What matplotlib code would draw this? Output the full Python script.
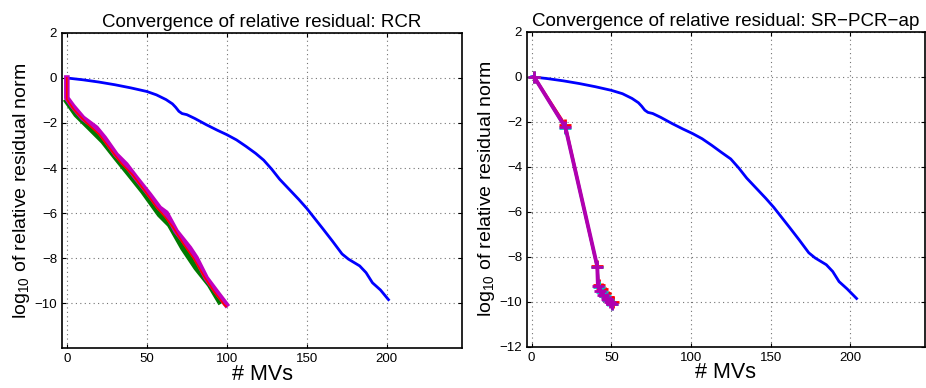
# convergence plots: RCR vs SR-PCR-ap
import numpy as np
import matplotlib
matplotlib.use("Agg")
import matplotlib.pyplot as plt

plt.rcParams['font.family'] = ['Liberation Sans', 'DejaVu Sans']
plt.rcParams['mathtext.fontset'] = 'custom'
plt.rcParams['mathtext.rm'] = 'Liberation Sans'
plt.rcParams['mathtext.it'] = 'Liberation Sans'

# baseline (blue) curve, left panel
blue_x = [0, 10, 20, 30, 40, 50, 56, 62, 66, 68, 70, 72, 75, 80, 87, 94, 100, 106, 112, 118,
          123, 128, 133, 139, 145, 150, 155, 160, 166, 172, 176, 183, 187, 191, 196, 201]
blue_y = [0, -0.08, -0.18, -0.3, -0.44, -0.6, -0.75, -0.96, -1.15, -1.3, -1.48, -1.58, -1.63,
          -1.8, -2.07, -2.32, -2.52, -2.75, -3.04, -3.35, -3.65, -4.05, -4.5, -4.95, -5.4, -5.8,
          -6.25, -6.7, -7.25, -7.82, -8.05, -8.35, -8.65, -9.1, -9.42, -9.85]
# same curve in the right panel, ends a bit later
blue_x_r = [0, 10, 20, 30, 40, 50, 57, 63, 67, 69, 71, 73, 76, 81, 88, 95, 101, 107, 113, 119,
            125, 130, 135, 141, 147, 152, 157, 162, 168, 174, 178, 185, 189, 193, 198, 204]

# RCR recycled runs (left panel)
mag_x = [0, 0, 3.8, 10, 18.3, 23.5, 30.8, 37, 43.3, 51.7, 57.9, 62.1, 68.3, 76.7, 80.8, 87.1, 93.3, 99.6]
mag_y = [0, -0.89, -1.26, -1.78, -2.22, -2.67, -3.41, -3.85, -4.44, -5.19, -5.78, -6.0, -6.81,
         -7.56, -8.0, -8.89, -9.48, -10.07]
grn_x = [0, 5.8, 14.2, 22.5, 30.8, 39.2, 47.5, 57.9, 64.2, 72.5, 80.8, 89.2, 95.4]
grn_y = [-1.04, -1.63, -2.22, -2.81, -3.56, -4.30, -5.04, -6.07, -6.52, -7.56, -8.44, -9.19, -9.93]
red_x = [0, 0, 4.5, 12, 20, 27, 34, 41, 49, 56, 61, 66, 73, 79, 86, 92, 98.5, 99.5]
red_y = [0, -0.95, -1.42, -1.98, -2.5, -3.15, -3.8, -4.3, -5.05, -5.75, -6.15, -6.6, -7.4,
         -8.0, -8.85, -9.5, -10.1, -10.15]

# SR-PCR-ap runs (right panel)
sr_red_x = [1.5, 21, 41, 42, 44, 46, 48, 51]
sr_red_y = [0, -2.13, -8.4, -9.25, -9.45, -9.6, -9.8, -10.0]
sr_cyan_x = [1.5, 21.2, 41.2, 42, 44, 46, 48, 50.3]
sr_cyan_y = [0, -2.28, -8.45, -9.35, -9.55, -9.75, -9.9, -10.1]
sr_mag_x = [1.5, 21.2, 41.2, 41.6, 43, 45, 47, 49, 50.3]
sr_mag_y = [0, -2.25, -8.43, -9.3, -9.5, -9.7, -9.88, -10.0, -10.1]

fig = plt.figure(figsize=(9.26, 3.88), dpi=100)
ax1 = fig.add_axes([0.067, 0.103, 0.432, 0.812])
ax2 = fig.add_axes([0.569, 0.106, 0.430, 0.812])


def style(ax, title, yticks):
    ax.set_xlim(-3, 247)
    ax.set_ylim(-12, 2)
    ax.set_xticks([0, 50, 100, 150, 200])
    ax.set_yticks(yticks)
    ax.set_yticklabels(['\u2212%d' % -t if t < 0 else str(t) for t in yticks])
    ax.tick_params(direction='in', labelsize=9.5, top=True, right=True, length=3, width=0.8)
    ax.grid(True, color='0.45', linestyle=(0, (1, 3)), linewidth=0.8)
    for s in ax.spines.values():
        s.set_linewidth(1.2)
    ax.set_title(title, fontsize=13.5, pad=4)
    ax.set_xlabel('# MVs', fontsize=15.5, labelpad=-1)
    ax.set_ylabel(r'log$_{10}$ of relative residual norm', fontsize=14, labelpad=2)


ax1.plot(blue_x, blue_y, color='#0000ff', lw=2)
ax1.plot(grn_x, grn_y, color='#007a00', lw=4)
ax1.plot(mag_x, mag_y, color='#c000c0', lw=4)
ax1.plot(red_x, red_y, color='#ff0000', lw=1.2)
style(ax1, 'Convergence of relative residual: RCR', [-10, -8, -6, -4, -2, 0, 2])

ax2.plot(blue_x_r, blue_y, color='#0000ff', lw=2)
ax2.plot(sr_red_x, sr_red_y, color='#ff0000', lw=2, marker='+', ms=8, mew=2)
ax2.plot(sr_cyan_x, sr_cyan_y, color='#00c0c0', lw=2, marker='+', ms=8, mew=2)
ax2.plot(sr_mag_x, sr_mag_y, color='#b000b0', lw=2.8, marker='+', ms=8, mew=2)
style(ax2, 'Convergence of relative residual: SR\u2212PCR\u2212ap', [-12, -10, -8, -6, -4, -2, 0, 2])

fig.savefig('out.png', dpi=100)
